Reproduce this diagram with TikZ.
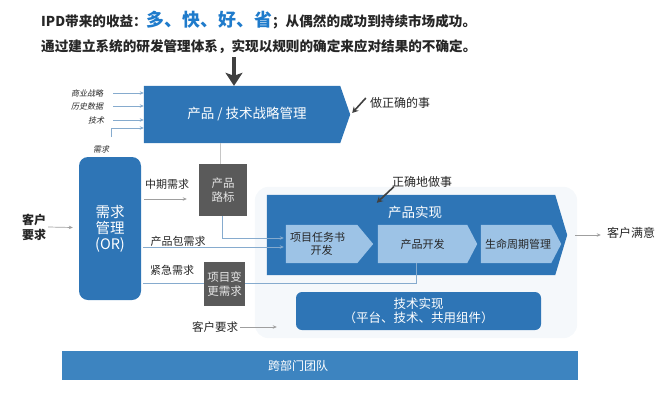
\documentclass[tikz,border=0pt]{standalone}
\usepackage{fontspec}
\setmainfont{Noto Sans CJK SC}
\newfontfamily\slcjk[FakeSlant=0.2]{Noto Sans CJK SC}
\usetikzlibrary{arrows.meta,calc}
\definecolor{cblue}{HTML}{2E75B6}
\definecolor{bbar}{HTML}{3D84C0}
\definecolor{lblue}{HTML}{9DC3E6}
\definecolor{gbox}{HTML}{5A5A5A}
\definecolor{tdark}{HTML}{262626}
\definecolor{tblue}{HTML}{1F7BCB}
\definecolor{lnblue}{HTML}{86ABCE}
\definecolor{glow}{HTML}{F5F8FB}
\definecolor{dgray}{HTML}{404040}
\pgfdeclarelayer{bg}\pgfdeclarelayer{lines}\pgfsetlayers{bg,lines,main}
\begin{document}
\begin{tikzpicture}[x=1pt,y=-1pt,
  every node/.style={inner sep=0pt, align=center, text=tdark},
  fs/.style 2 args={font=\fontsize{#1}{#2}\selectfont},
  graybox/.style={fill=gbox, text=white!90!black, font=\fontsize{11.5}{14}\selectfont},
  chevtext/.style={font=\fontsize{11}{13}\selectfont, text=tdark},
  barr/.style={draw=lnblue, line width=0.8pt, -{Stealth[length=4pt,width=3.5pt]}},
  bline/.style={draw=lnblue, line width=0.8pt},
  lgray/.style={draw=gray!45, line width=0.6pt},
  garr/.style={draw=gray!75, line width=0.7pt, -{Stealth[length=4pt,width=3.5pt]}},
  darr/.style={draw=dgray, line width=1.6pt, -{Stealth[length=6pt,width=6.5pt]}}]
\useasboundingbox (0,0) rectangle (670,400);

% titles
\node[anchor=west, font=\bfseries\fontsize{13.6}{16}\selectfont] (t1) at (41,20)
  {IPD带来的收益：{\color{tblue}\fontsize{17.9}{20}\selectfont 多、快、好、省}；从偶然的成功到持续市场成功。};
\node[anchor=west, font=\bfseries\fontsize{13.6}{16}\selectfont] (t2) at (41,47)
  {通过建立系统的研发管理体系，实现以规则的确定来应对结果的不确定。};

% strategy box
\node[minimum width=196pt, minimum height=57pt, text=white, fs={13.5}{16}] (ptm) at (242,114.5)
  {\hspace*{10pt}产品 / 技术战略管理};
\coordinate (dtop) at (234,57);
\draw[line width=3.5pt, draw=dgray, -{Stealth[width=17pt,length=13pt,inset=3pt]}] (dtop) -- (dtop |- ptm.north);

% left inputs
\node[font=\slcjk\fontsize{8}{9}\selectfont] (l1) at (87,93) {商业战略};
\node[font=\slcjk\fontsize{8}{9}\selectfont] (l2) at (87,106) {历史数据};
\node[font=\slcjk\fontsize{8}{9}\selectfont] (l3) at (96,120) {技术};
\node[font=\slcjk\fontsize{8}{9}\selectfont] (req) at (101,149) {需求};
\coordinate (lx) at (113,0);

% requirement management
\node[rounded corners=9pt, fill=cblue, minimum width=62pt, minimum height=143pt, text=white, fs={14.5}{16}] (orn) at (110,228.5) {需求\\管理\\(OR)};
\node[font=\bfseries\fontsize{12}{15}\selectfont] (cust) at (34,227) {客户\\要求};

\node[fs={11}{13}] (mid) at (167,184) {中期需求};
\node[fs={11}{13}] (pkg) at (178,241) {产品包需求};
\node[fs={11}{13}] (urg) at (172,270) {紧急需求};

\node[graybox, minimum width=48pt, minimum height=52pt] (roadmap) at (223,190) {产品\\路标};
\node[graybox, minimum width=41pt, minimum height=44pt] (chg) at (224.5,284) {项目变\\更需求};

% product realisation
\node[minimum width=288pt, minimum height=80pt] (pr) at (411,235) {};
\node[text=white, fs={13.5}{16}] (prl) at (415,212) {产品实现};
\node[chevtext, minimum width=71pt, minimum height=38pt] (c1) at (321.5,244) {\hspace*{-8pt}项目任务书\\开发};
\node[chevtext, minimum width=89pt, minimum height=38pt] (c2) at (422.5,244) {产品开发};
\node[chevtext, minimum width=68pt, minimum height=38pt] (c3) at (516,244) {\hspace*{4pt}生命周期管理};

\node[rounded corners=6pt, fill=cblue, minimum width=245pt, minimum height=38pt, text=white, fs={12.5}{13.5}] (tech) at (418.5,311) {技术实现\\（平台、技术、共用组件）};

\node[fill=bbar, minimum width=516pt, minimum height=29pt] (team) at (320,365.5) {};
\node[text=white, fs={12}{14}] (teaml) at (298,365.5) {跨部门团队};

\node[fs={12}{14}] (do1) at (400,103) {做正确的事};
\node[fs={12}{14}] (do2) at (422,182) {正确地做事};
\node[fs={12}{14}] (sat) at (631,233) {客户满意};
\node[fs={11.5}{14}] (cr2) at (215,327) {客户要求};

% background fills
\begin{pgfonlayer}{bg}
\fill[glow, rounded corners=14pt] ($(pr.north west)+(-12,-8)$) rectangle ($(tech.south east)+(36,8)$);
\fill[cblue] (ptm.north west) -- (ptm.north east) -- ($(ptm.east)+(10,0)$) -- (ptm.south east) -- (ptm.south west) -- cycle;
\fill[cblue] (pr.north west) -- (pr.north east) -- ($(pr.east)+(12,0)$) -- (pr.south east) -- (pr.south west) -- cycle;
\fill[lblue] (c1.north west) -- (c1.north east) -- ($(c1.east)+(16,0)$) -- (c1.south east) -- (c1.south west) -- cycle;
\fill[lblue] (c2.north west) -- (c2.north east) -- ($(c2.east)+(10,0)$) -- (c2.south east) -- (c2.south west) -- cycle;
\fill[lblue] (c3.north west) -- (c3.north east) -- ($(c3.east)+(10,0)$) -- (c3.south east) -- (c3.south west) -- cycle;
\end{pgfonlayer}

% connectors
\begin{pgfonlayer}{lines}
\draw[barr] (l1 -| lx) -- (l1 -| ptm.west);
\draw[barr] (l2 -| lx) -- (l2 -| ptm.west);
\draw[barr] (l3 -| lx) -- (l3 -| ptm.west);
\draw[barr] ($(req.north east)+(2,-8)$) |- ($(ptm.west)+(0,13.5)$);
\draw[garr] ($(cust.east)+(2,0)$) -- ($(orn.west)+(-6,-1)$);
\draw[garr] ($(orn.east)+(3,-29.5)$) -- ($(roadmap.west)+(-12,9)$);
\coordinate (rt) at ($(roadmap.north)+(-3,0)$);
\draw[lgray] (rt) -- (rt |- ptm.south);
\draw[barr] ($(roadmap.south)+(-1,0)$) |- ($(c1.west)+(-2,-6)$);
\draw[barr] ($(orn.east)+(2,18.5)$) -- ($(c1.west)+(-2,3)$);
\draw[bline] ($(orn.east)+(2,54.5)$) -| ($(c2.south)+(-6.5,0)$);
\draw[garr] ($(pr.east)+(20,0)$) -- ($(sat.west)+(-6,2)$);
\draw[garr] ($(cr2.east)+(2,0)$) -- ($(tech.west)+(-19,16)$);
\draw[darr] ($(do1.west)+(-4,-5)$) -- ($(ptm.east)+(12,-1.5)$);
\draw[darr] ($(do2.south west)+(2,-1)$) -- ($(pr.north west)+(110,8)$);
\end{pgfonlayer}
\end{tikzpicture}
\end{document}
